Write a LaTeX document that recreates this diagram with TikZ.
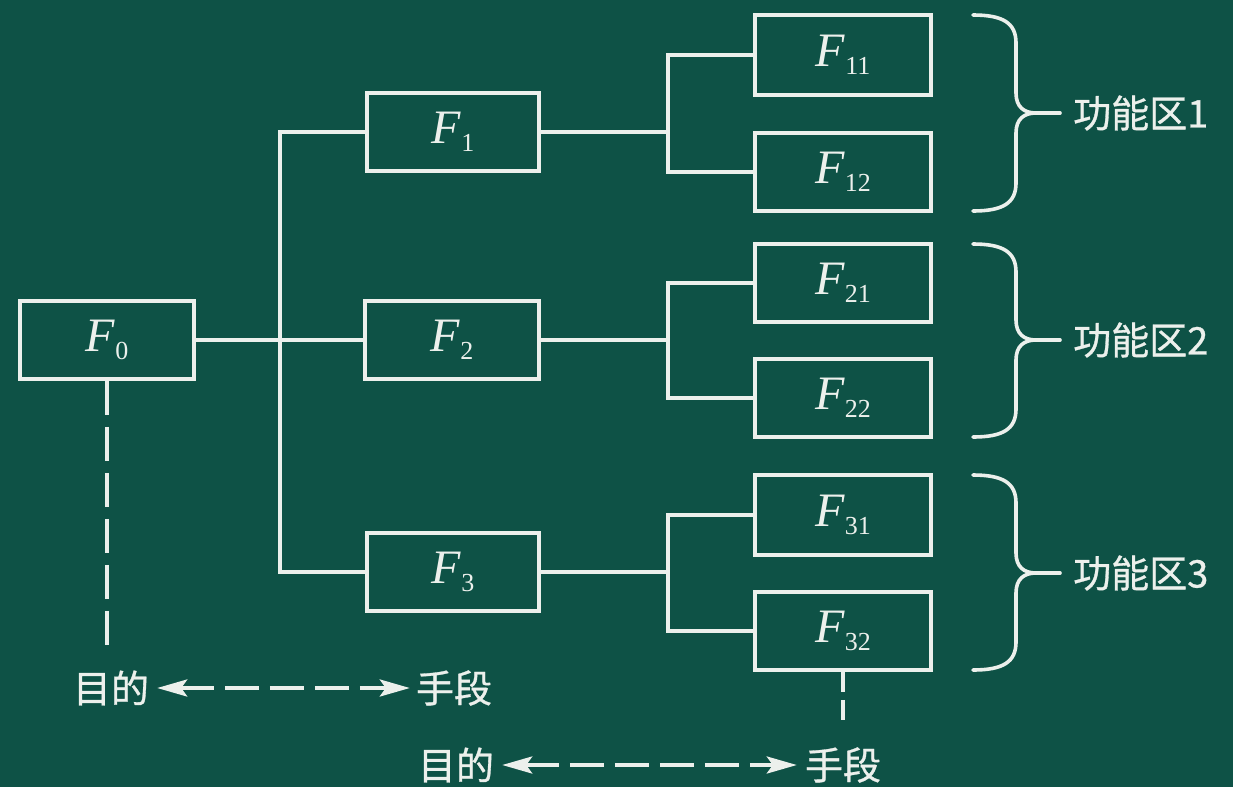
\documentclass[tikz,border=0pt]{standalone}
\usepackage{fontspec}
\setmainfont{Liberation Serif}
\newfontfamily\cjk[FakeBold=0.8]{Noto Sans CJK SC}
\usetikzlibrary{arrows.meta}
\definecolor{board}{RGB}{14,82,70}
\definecolor{chalk}{RGB}{236,240,236}

% function label: italic F with a lowered upright index
\newcommand{\Fn}[1]{\textit{F}\raisebox{-8pt}{\fontsize{26}{26}\selectfont #1}}
% curly brace from y=#1 to y=#3, pointing right at y=#2
\newcommand{\zonebrace}[3]{%
  \draw[brace] (973,#1) .. controls (1003,#1) and (1016,#1+8) .. (1016,#1+28)
    -- (1016,#2-20) .. controls (1016,#2-6) and (1024,#2) .. (1036,#2)
    .. controls (1024,#2) and (1016,#2+6) .. (1016,#2+20)
    -- (1016,#3-28) .. controls (1016,#3-8) and (1003,#3) .. (973,#3);
  \draw[brace] (1034,#2) -- (1060,#2);}

\begin{document}
\begin{tikzpicture}[x=1pt,y=-1pt,
  fbox/.style={draw=chalk, line width=3.6pt, minimum width=174pt, minimum height=78pt,
    inner sep=0pt, text=chalk, font=\fontsize{48}{48}\selectfont},
  link/.style={draw=chalk, line width=3.2pt},
  brace/.style={draw=chalk, line width=3.6pt, line cap=round},
  dashline/.style={draw=chalk, line width=3.6pt, dash pattern=on 34pt off 12pt},
  meansarrow/.style={draw=chalk, line width=3.8pt, dash pattern=on 34pt off 11pt,
    {Stealth[length=30pt,width=17pt,inset=6pt]}-{Stealth[length=30pt,width=17pt,inset=6pt]}},
  word/.style={text=chalk, inner sep=0pt, font=\cjk\fontsize{38}{38}\selectfont},
  zone/.style={word, anchor=west}]
\fill[board] (0,0) rectangle (1233,787);

% function boxes
\node[fbox] (F0) at (107,340) {\Fn{0}};
\node[fbox, minimum width=172pt] (F1) at (453,132) {\Fn{1}};
\node[fbox] (F2) at (452,340) {\Fn{2}};
\node[fbox, minimum width=172pt] (F3) at (453,572) {\Fn{3}};
\node[fbox, minimum width=176pt, minimum height=80pt] (F11) at (843,55) {\Fn{11}};
\node[fbox, minimum width=176pt] (F12) at (843,172) {\Fn{12}};
\node[fbox, minimum width=176pt] (F21) at (843,283) {\Fn{21}};
\node[fbox, minimum width=176pt] (F22) at (843,398) {\Fn{22}};
\node[fbox, minimum width=176pt, minimum height=80pt] (F31) at (843,515) {\Fn{31}};
\node[fbox, minimum width=176pt] (F32) at (843,631) {\Fn{32}};

% junction columns
\coordinate (tA) at (280,0);
\coordinate (tB) at (668,0);

% first level
\draw[link] (F0.east) -- (F2.west);
\draw[link] (F1.west) -- (F1.west -| tA) -- (F3.west -| tA) -- (F3.west);

% second level
\draw[link] (F1.east) -- (F1.east -| tB);
\draw[link] (F11.west) -- (F11.west -| tB) -- (F12.west -| tB) -- (F12.west);
\draw[link] (F2.east) -- (F2.east -| tB);
\draw[link] (F21.west) -- (F21.west -| tB) -- (F22.west -| tB) -- (F22.west);
\draw[link] (F3.east) -- (F3.east -| tB);
\draw[link] (F31.west) -- (F31.west -| tB) -- (F32.west -| tB) -- (F32.west);

% functional zones
\zonebrace{15}{113}{211}
\zonebrace{244}{340}{437}
\zonebrace{475}{573}{670}
\node[zone] (Z1) at (1073,113) {功能区1};
\node[zone] (Z2) at (1073,340) {功能区2};
\node[zone] (Z3) at (1073,573) {功能区3};

% ends and means
\node[word] (G1) at (111,688) {目的};
\node[word] (M1) at (454,688) {手段};
\node[word] (G2) at (456,765) {目的};
\node[word] (M2) at (843,765) {手段};
\coordinate (d1) at (0,648);
\coordinate (d2) at (0,722);
\draw[dashline] (F0.south) -- (F0.south |- d1);
\draw[link, line width=3.6pt, dash pattern=on 20pt off 8pt] (F32.south) -- (F32.south |- d2);
\draw[meansarrow] ([xshift=8pt]G1.east) -- ([xshift=-6pt]M1.west);
\draw[meansarrow] ([xshift=8pt]G2.east) -- ([xshift=-8pt]M2.west);
\end{tikzpicture}
\end{document}
